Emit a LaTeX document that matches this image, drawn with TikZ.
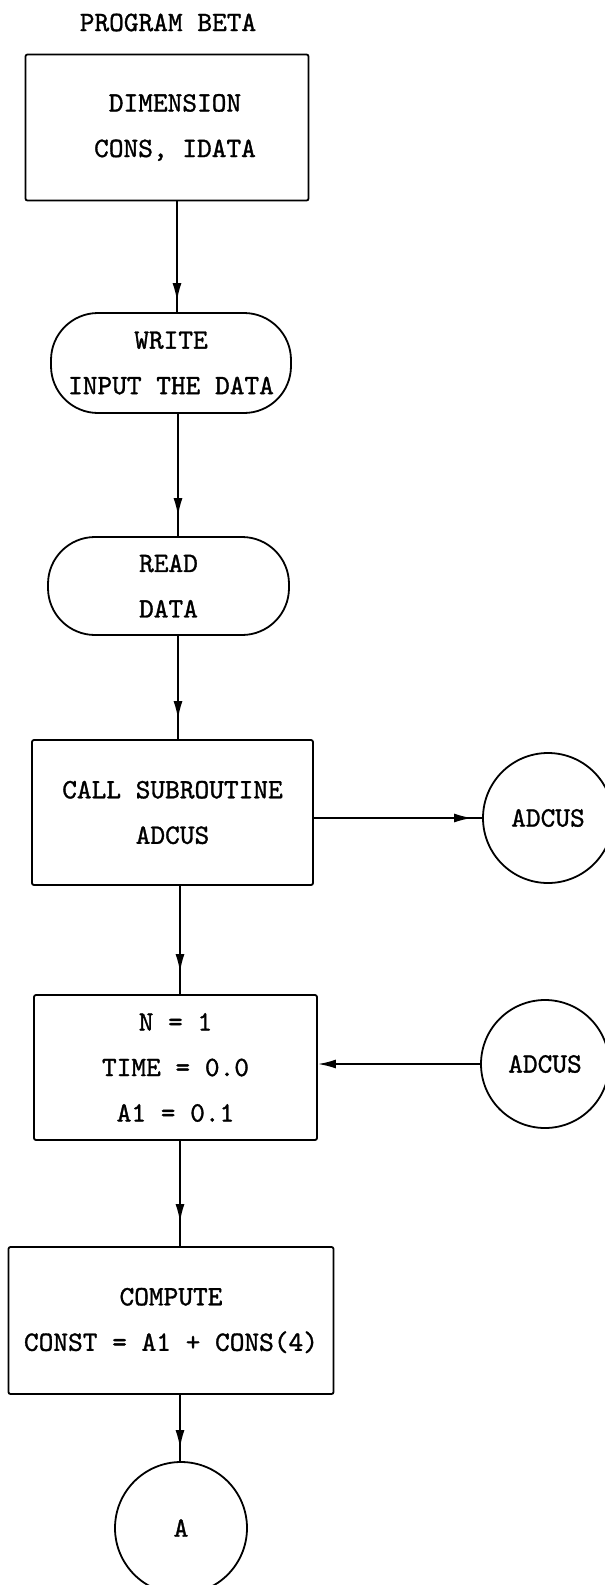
\documentclass[tikz,border=0pt]{standalone}
\usepackage{fontspec}
\newfontfamily\twfont[FakeBold=1.2]{lmmono10-regular.otf}
\usetikzlibrary{arrows.meta,decorations.markings}
\begin{document}
\begin{tikzpicture}[x=1pt,y=-1pt,
  every node/.style={font=\twfont\fontsize{28}{45.5}\selectfont, align=center, inner sep=0pt},
  boxst/.style={draw, line width=1.8pt, rounded corners=2pt},
  termst/.style={draw, line width=1.8pt, rounded corners=47pt},
  connst/.style={draw, circle, line width=1.8pt, minimum size=#1},
  flow/.style={line width=1.8pt, postaction={decorate, decoration={markings,
     mark=at position #1 with {\arrow{Latex[length=18pt,width=9pt]}}}}},
  tipend/.style={line width=1.8pt, -{Latex[length=18pt,width=9pt]}}
]
\useasboundingbox (0,0) rectangle (605,1585);
\node (title) at (168,22.5) {PROGRAM BETA};
\node[boxst, minimum width=283pt, minimum height=146pt] (dim) at (167,127.5) {\hspace*{16pt}DIMENSION\\\hspace*{16pt}CONS, IDATA};
\node[termst, minimum width=240pt, minimum height=100pt] (write) at (171,363) {WRITE\\INPUT THE DATA};
\node[termst, minimum width=241pt, minimum height=98pt] (read) at (168.5,586) {READ\\DATA};
\node[boxst, minimum width=281pt, minimum height=145pt] (call) at (172.5,812.5) {CALL SUBROUTINE\\ADCUS};
\node[connst=130pt] (ad1) at (548,818) {ADCUS};
\node[boxst, minimum width=283pt, minimum height=145pt] (init) at (175.5,1067.5) {N = 1\\TIME = 0.0\\A1 = 0.1};
\node[connst=128pt] (ad2) at (545,1064) {ADCUS};
\node[boxst, minimum width=325pt, minimum height=147pt] (comp) at (171,1320.5) {COMPUTE\\CONST = A1 + CONS(4)};
\node[connst=132pt] (a) at (181,1528) {A};
\coordinate (c1) at (177,0);
\coordinate (c2) at (178,0);
\coordinate (c3) at (180,0);
\draw[flow=-11pt] (dim.south -| c1) -- (write.north -| c1);
\draw[flow=-20pt] (write.south -| c2) -- (read.north -| c2);
\draw[flow=-20pt] (read.south -| c2) -- (call.north -| c2);
\draw[flow=-10pt] (call.east |- ad1.west) -- (ad1.west);
\draw[flow=-22pt] (call.south -| c3) -- (init.north -| c3);
\draw[tipend] (ad2.west) -- (init.east |- ad2.west);
\draw[flow=-24pt] (init.south -| c3) -- (comp.north -| c3);
\draw[flow=-13pt] (comp.south -| c3) -- (a.north -| c3);
\end{tikzpicture}
\end{document}
